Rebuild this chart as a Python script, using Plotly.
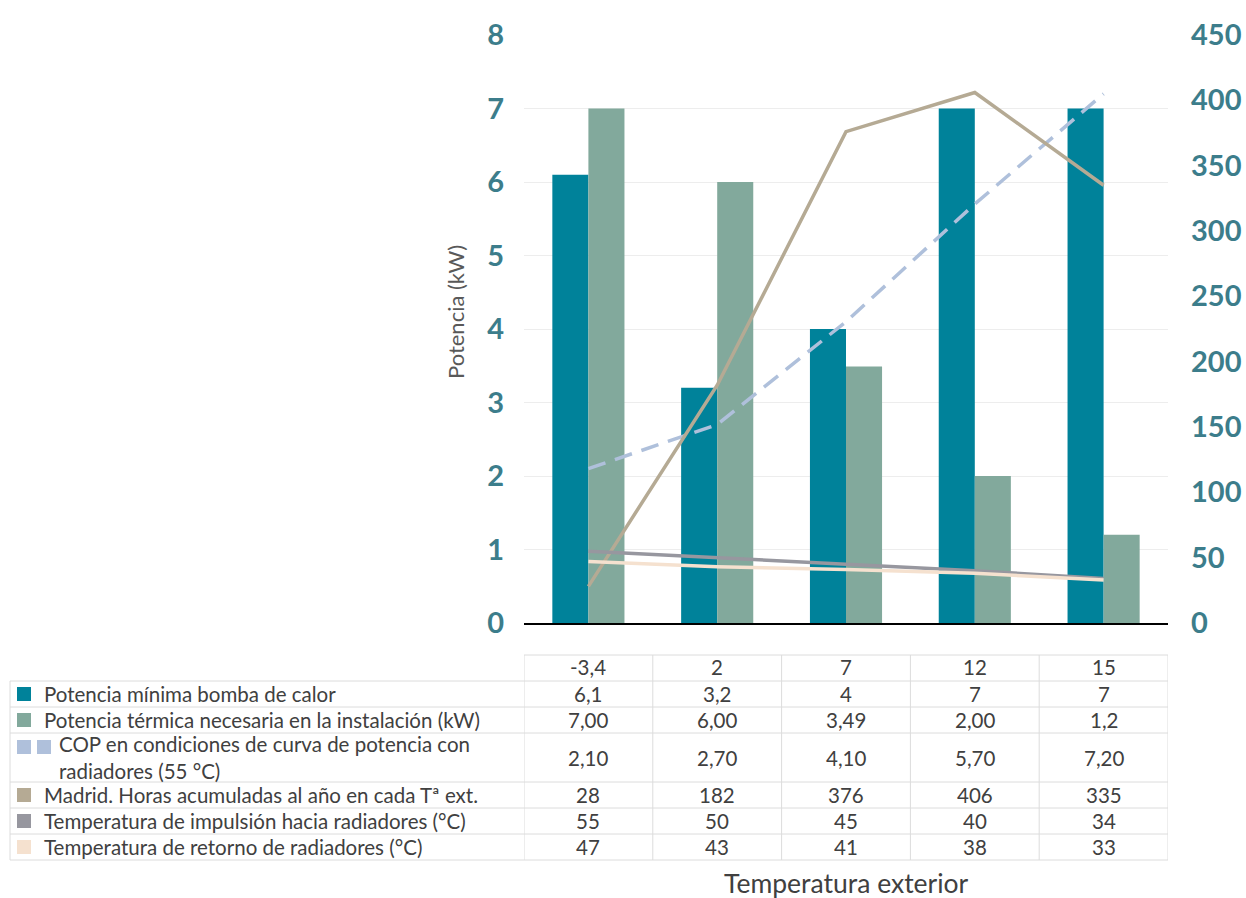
import plotly.graph_objects as go

# ---------------- data ----------------
categorias = ["-3,4", "2", "7", "12", "15"]
pot_minima = [6.1, 3.2, 4, 7, 7]
pot_termica = [7.00, 6.00, 3.49, 2.00, 1.2]
pot_termica_dec = [2, 2, 2, 2, 1]
cop = [2.10, 2.70, 4.10, 5.70, 7.20]
horas_madrid = [28, 182, 376, 406, 335]
t_impulsion = [55, 50, 45, 40, 34]
t_retorno = [47, 43, 41, 38, 33]

nombres = [
    "Potencia mínima bomba de calor",
    "Potencia térmica necesaria en la instalación (kW)",
    "COP en condiciones de curva de potencia con<br>radiadores (55 °C)",
    "Madrid. Horas acumuladas al año en cada Tª ext.",
    "Temperatura de impulsión hacia radiadores (°C)",
    "Temperatura de retorno de radiadores (°C)",
]
colores = ["#00829A", "#82A99C", "#AFC0DB", "#B5AA94", "#97979F", "#F5E1CF"]

# ---------------- geometry helpers ----------------
W, H = 1246, 898
L, R, T, B = 524, 1168, 35, 623


def px(x):
    return (x - L) / (R - L)


def py(y):
    return (B - y) / (B - T)


def fmt(v, d=None):
    s = f"{v:g}" if d is None else f"{v:.{d}f}"
    return s.replace(".", ",")


FONT = "Lato"
TXT = "#404040"
TICK = "#3C7D8B"

fig = go.Figure()
fig.add_trace(go.Bar(x=categorias, y=pot_minima, name=nombres[0],
                     marker=dict(color=colores[0], line=dict(width=0))))
fig.add_trace(go.Bar(x=categorias, y=pot_termica, name=nombres[1],
                     marker=dict(color=colores[1], line=dict(width=0))))
fig.add_trace(go.Scatter(x=categorias, y=cop, mode="lines", name=nombres[2],
                         line=dict(color=colores[2], width=3.5, dash="18px,10px")))
fig.add_trace(go.Scatter(x=categorias, y=horas_madrid, mode="lines", name=nombres[3],
                         yaxis="y2", line=dict(color=colores[3], width=3.5)))
fig.add_trace(go.Scatter(x=categorias, y=t_impulsion, mode="lines", name=nombres[4],
                         yaxis="y2", line=dict(color=colores[4], width=3.5)))
fig.add_trace(go.Scatter(x=categorias, y=t_retorno, mode="lines", name=nombres[5],
                         yaxis="y2", line=dict(color=colores[5], width=3.5)))

# ---------------- data table ----------------
rows_y = [655, 681, 707, 733, 782, 808, 834, 860]
grid = "#DCDCDC"
shapes = []
for i, y in enumerate(rows_y):
    x0 = L if i == 0 else 10
    shapes.append(dict(type="line", xref="paper", yref="paper",
                       x0=px(x0), x1=px(R), y0=py(y), y1=py(y),
                       line=dict(color=grid, width=1)))
shapes.append(dict(type="line", xref="paper", yref="paper", x0=px(10), x1=px(10),
                   y0=py(681), y1=py(860), line=dict(color=grid, width=1)))
for k in range(len(categorias) + 1):
    shapes.append(dict(type="line", xref="x", yref="paper", x0=k - 0.5, x1=k - 0.5,
                       y0=py(655), y1=py(860), line=dict(color=grid, width=1)))

filas = [
    [fmt(v) for v in pot_minima],
    [fmt(v, d) for v, d in zip(pot_termica, pot_termica_dec)],
    [fmt(v, 2) for v in cop],
    [fmt(v) for v in horas_madrid],
    [fmt(v) for v in t_impulsion],
    [fmt(v) for v in t_retorno],
]

CELL = 20.5
annotations = []
for i, c in enumerate(categorias):
    annotations.append(dict(x=i, xref="x", y=py(667), yref="paper", text=c,
                            showarrow=False, xanchor="center", yanchor="middle",
                            font=dict(family=FONT, size=CELL, color=TXT)))
for r in range(6):
    top, bot = rows_y[r + 1], rows_y[r + 2]
    yc = (top + bot) / 2
    for i, txt in enumerate(filas[r]):
        annotations.append(dict(x=i, xref="x", y=py(yc), yref="paper", text=txt,
                                showarrow=False, xanchor="center", yanchor="middle",
                                font=dict(family=FONT, size=CELL, color=TXT)))
    if r == 2:
        keys, tx, ky = [17, 37], 57, top + 14
    else:
        keys, tx, ky = [17], 42, yc
    for kx in keys:
        shapes.append(dict(type="rect", xref="paper", yref="paper",
                           x0=px(kx), x1=px(kx + 14), y0=py(ky - 7), y1=py(ky + 7),
                           fillcolor=colores[r], line=dict(width=0)))
    annotations.append(dict(x=px(tx), xref="paper", y=py(yc), yref="paper",
                            text=nombres[r], showarrow=False, xanchor="left",
                            yanchor="middle", align="left",
                            font=dict(family=FONT, size=CELL, color=TXT)))

annotations.append(dict(x=px(455), xref="paper", y=py(312), yref="paper",
                        text="Potencia (kW)", textangle=-90, showarrow=False,
                        xanchor="center", yanchor="middle",
                        font=dict(family=FONT, size=22, color="#595959")))
annotations.append(dict(x=px(846), xref="paper", y=py(883), yref="paper",
                        text="Temperatura exterior", showarrow=False,
                        xanchor="center", yanchor="middle",
                        font=dict(family=FONT, size=26.5, color=TXT)))

fig.update_layout(
    width=W, height=H,
    margin=dict(l=L, r=W - R, t=T, b=H - B, pad=0, autoexpand=False),
    paper_bgcolor="white", plot_bgcolor="white",
    barmode="group", bargap=0.44, bargroupgap=0,
    showlegend=False,
    font=dict(family=FONT, color=TXT),
    xaxis=dict(type="category", range=[-0.5, 4.5], showticklabels=False,
               showline=True, linecolor="black", linewidth=1.5, showgrid=False,
               ticks="", zeroline=False, automargin=False),
    yaxis=dict(range=[0, 8], dtick=1, showgrid=True, gridcolor="#EDEDED",
               gridwidth=1, zeroline=False, showline=False, ticks="",
               ticklabelstandoff=19, automargin=False,
               tickfont=dict(family=FONT, size=29, color=TICK, weight="bold")),
    yaxis2=dict(range=[0, 450], dtick=50, overlaying="y", side="right",
                showgrid=False, zeroline=False, showline=False, ticks="",
                ticklabelstandoff=22, automargin=False,
                tickfont=dict(family=FONT, size=29, color=TICK, weight="bold")),
    shapes=shapes,
    annotations=annotations,
)

fig.write_html(
    "out.html",
    config={"displayModeBar": False},
    post_script="document.body.style.margin='0';document.body.style.overflow='hidden';",
)
